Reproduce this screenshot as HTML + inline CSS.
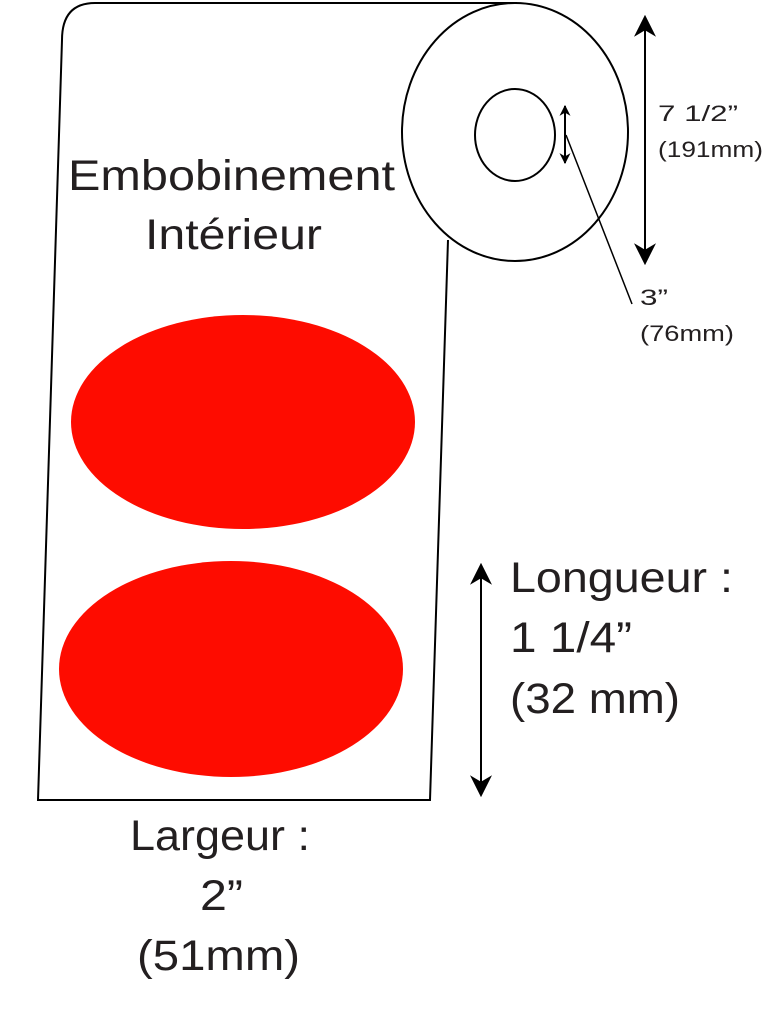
<!DOCTYPE html>
<html><head><meta charset="utf-8"><style>
html,body{margin:0;padding:0;background:#fff;}
svg{display:block;}
text{font-family:"Liberation Sans","DejaVu Sans",sans-serif;fill:#231f20;}
</style></head><body>
<svg width="780" height="1024" viewBox="0 0 780 1024" xmlns="http://www.w3.org/2000/svg">
<defs>
<marker id="ah" viewBox="0 0 10 10" refX="9" refY="5" markerWidth="11" markerHeight="11" orient="auto-start-reverse" markerUnits="userSpaceOnUse"><path d="M0,0 L10,5 L0,10 L3,5 z" fill="#000"/></marker>
<marker id="ah2" viewBox="0 0 10 10" refX="9" refY="5" markerWidth="22" markerHeight="22" orient="auto-start-reverse" markerUnits="userSpaceOnUse"><path d="M0,0 L10,5 L0,10 L3,5 z" fill="#000"/></marker>
</defs>
<g fill="none" stroke="#000" stroke-width="2">
<path d="M517,3 L95,3 Q62,3 62,40 L38,800 L430,800 L448,240"/>
<ellipse cx="515" cy="132" rx="113" ry="129" fill="#fff"/>
<ellipse cx="515" cy="135" rx="40" ry="46"/>
<line x1="645" y1="17" x2="645" y2="263" marker-start="url(#ah2)" marker-end="url(#ah2)"/>
<line x1="481" y1="565" x2="481" y2="795" marker-start="url(#ah2)" marker-end="url(#ah2)"/>
<line x1="565" y1="106" x2="565" y2="163" stroke-width="2" marker-start="url(#ah)" marker-end="url(#ah)"/>
<line x1="566" y1="135" x2="632" y2="304" stroke-width="1.5"/>
</g>
<ellipse cx="243" cy="422" rx="172" ry="107" fill="#fe0c00"/>
<ellipse cx="231" cy="669" rx="172" ry="108" fill="#fe0c00"/>
<text x="68" y="190" font-size="43" textLength="327" lengthAdjust="spacingAndGlyphs">Embobinement</text>
<text x="145" y="249" font-size="43" textLength="177" lengthAdjust="spacingAndGlyphs">Intérieur</text>
<text x="658" y="121" font-size="22" textLength="80" lengthAdjust="spacingAndGlyphs">7 1/2”</text>
<text x="658" y="157" font-size="22" textLength="105" lengthAdjust="spacingAndGlyphs">(191mm)</text>
<text x="640" y="305" font-size="22" textLength="28" lengthAdjust="spacingAndGlyphs">3”</text>
<text x="640" y="341" font-size="22" textLength="94" lengthAdjust="spacingAndGlyphs">(76mm)</text>
<text x="510" y="592" font-size="43" textLength="223" lengthAdjust="spacingAndGlyphs">Longueur :</text>
<text x="510" y="652" font-size="43" textLength="122" lengthAdjust="spacingAndGlyphs">1 1/4”</text>
<text x="510" y="713" font-size="43" textLength="170" lengthAdjust="spacingAndGlyphs">(32 mm)</text>
<text x="130" y="850" font-size="43" textLength="180" lengthAdjust="spacingAndGlyphs">Largeur :</text>
<text x="200" y="910" font-size="43" textLength="43" lengthAdjust="spacingAndGlyphs">2”</text>
<text x="137" y="970" font-size="43" textLength="163" lengthAdjust="spacingAndGlyphs">(51mm)</text>
</svg>
</body></html>
